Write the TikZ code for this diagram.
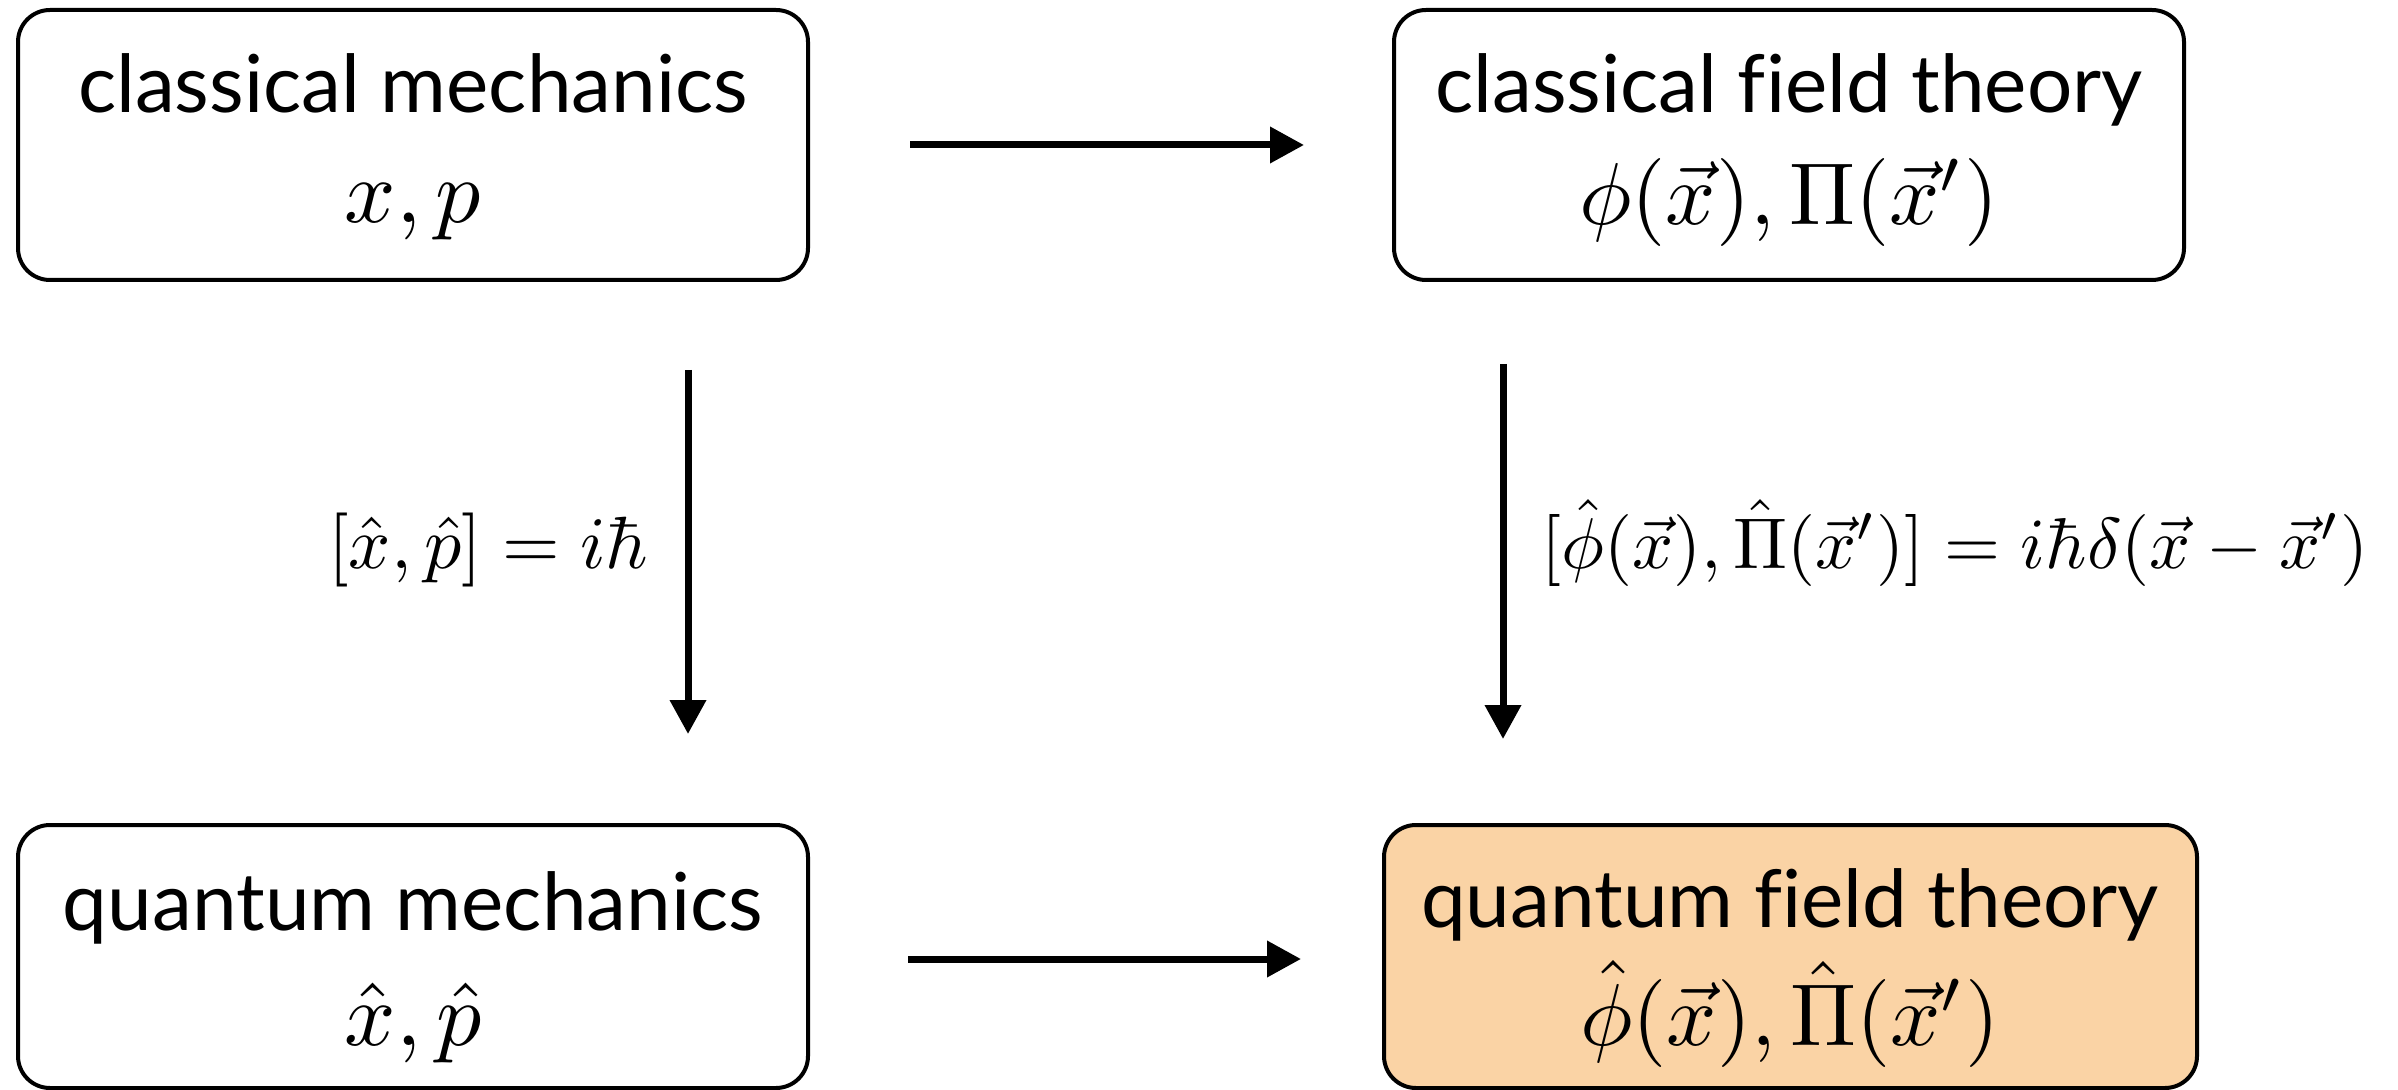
\documentclass[tikz,border=0pt]{standalone}
\usepackage[no-math]{fontspec}
\setmainfont{Lato}[Ligatures=NoCommon]
\usetikzlibrary{arrows.meta}
\definecolor{qftfill}{RGB}{250,211,165}
\newcommand{\scmath}[2]{\scalebox{#1}{$#2$}}
\begin{document}
\begin{tikzpicture}[x=0.5pt,y=-0.5pt,
  box/.style={draw=black, line width=2pt, rounded corners=16pt, inner sep=0pt},
  title/.style={anchor=base, inner sep=0pt, font=\fontsize{40}{48}\selectfont},
  mth/.style={anchor=base, inner sep=0pt},
  lbl/.style={inner sep=0pt},
  conn/.style={line width=3.5pt, -{Triangle[width=17.5pt,length=17pt]}}]
\useasboundingbox (0,0) rectangle (2398,1090);
% boxes
\draw[box] (18,10) rectangle (808,280);
\draw[box] (1394,10) rectangle (2184,280);
\draw[box] (18,825) rectangle (808,1088);
\draw[box, fill=qftfill] (1384,825) rectangle (2197,1088);
% texts
\node[title] (t1) at (413,113) {classical mechanics};
\node[mth] (m1) at (413,223) {\scmath{4.5}{x,p}};
\node[title] (t2) at (1789,113) {classical field theory};
\node[mth] (m2) at (1789,225) {\scmath{4.4}{\phi(\vec{x}),\Pi(\vec{x}')}};
\node[title] (t3) at (413,930) {quantum mechanics};
\node[mth] (m3) at (413,1045) {\scmath{4.5}{\hat{x},\hat{p}}};
\node[title] (t4) at (1790,927) {quantum field theory};
\node[mth] (m4) at (1790,1045) {\scmath{4.4}{\hat{\phi}(\vec{x}),\hat{\Pi}(\vec{x}')}};
% arrows
\coordinate (a1s) at (910,145); \coordinate (a1e) at (1304,145);
\coordinate (a2s) at (908,959); \coordinate (a2e) at (1301,959);
\coordinate (a3s) at (688,370); \coordinate (a3e) at (688,734);
\coordinate (a4s) at (1503,364); \coordinate (a4e) at (1503,739);
\draw[conn] (a1s) -- (a1e);
\draw[conn] (a2s) -- (a2e);
\draw[conn] (a3s) -- (a3e);
\draw[conn] (a4s) -- (a4e);
% labels
\node[lbl, anchor=base east] (l1) at (649,568) {\scmath{3.7}{[\hat{x},\hat{p}]=i\hbar}};
\node[lbl, anchor=base west] (l2) at (1541,568) {\scmath{3.6}{[\hat{\phi}(\vec{x}),\hat{\Pi}(\vec{x}')]=i\hbar\delta(\vec{x}-\vec{x}')}};
\end{tikzpicture}
\end{document}
